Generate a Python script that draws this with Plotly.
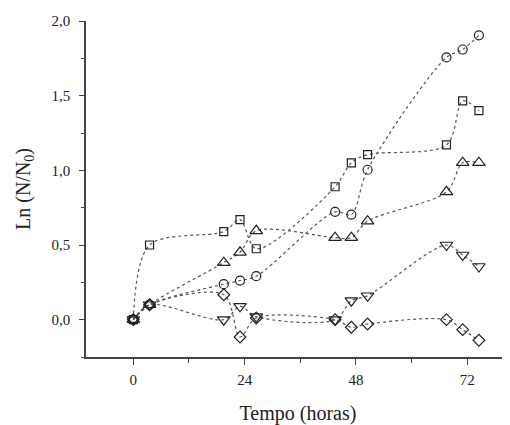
import plotly.graph_objects as go

tempo = [0, 3.5, 19.5, 23, 26.5, 43.5, 47, 50.5, 67.5, 71, 74.5]

quadrado = [0.0, 0.50, 0.59, 0.67, 0.475, 0.89, 1.05, 1.105, 1.17, 1.465, 1.40]
circulo = [0.0, 0.10, 0.238, 0.262, 0.291, 0.722, 0.704, 1.004, 1.756, 1.809, 1.904]
triangulo = [0.0, 0.10, 0.382, 0.451, 0.595, 0.549, 0.549, 0.66, 0.856, 1.051, 1.051]
triangulo_inv = [0.0, 0.10, 0.0, 0.089, 0.02, 0.0, 0.127, 0.16, 0.50, 0.433, 0.356]
losango = [0.0, 0.10, 0.167, -0.116, 0.011, 0.0, -0.051, -0.029, 0.0, -0.067, -0.138]

series = [
    (quadrado, "square-open", 8),
    (circulo, "circle-open", 9),
    (triangulo, "triangle-up-open", 11),
    (triangulo_inv, "triangle-down-open", 11),
    (losango, "diamond-open", 9),
]

fig = go.Figure()
for vals, sym, sz in series:
    fig.add_trace(go.Scatter(
        x=tempo, y=vals, mode="lines+markers",
        line=dict(color="#555555", width=1.2, dash="dot", shape="spline", smoothing=0.9),
        marker=dict(symbol=sym, size=sz, color="#222222", line=dict(width=1.2, color="#222222")),
        showlegend=False,
    ))

font_family = "Liberation Serif, Times New Roman, serif"
fig.update_layout(
    width=502, height=417,
    margin=dict(l=78, r=0, t=13, b=68),
    paper_bgcolor="white", plot_bgcolor="white",
    separators=",.",
    font=dict(family=font_family, size=15, color="#222222"),
    xaxis=dict(
        range=[-10.2, 81.2], tickvals=[0, 24, 48, 72], ticks="outside", ticklen=6,
        tickwidth=1.2, tickcolor="#444444", automargin=False,
        showline=True, linecolor="#444444", linewidth=1.5, showgrid=False, zeroline=False,
        minor=dict(tickvals=[12, 36, 60], ticks="outside", ticklen=4, tickcolor="#444444", tickwidth=1.2),
        title=dict(text="Tempo (horas)", font=dict(size=20, family=font_family), standoff=20),
        tickfont=dict(size=15, family=font_family),
        ticklabelstandoff=2,
    ),
    yaxis=dict(
        range=[-0.25, 2.0], tickvals=[0, 0.5, 1.0, 1.5, 2.0], tickformat=".1f",
        ticks="outside", ticklen=5, tickwidth=1.2, tickcolor="#444444", automargin=False,
        showline=True, linecolor="#444444", linewidth=1.5, showgrid=False, zeroline=False,
        minor=dict(tickvals=[-0.25, 0.25, 0.75, 1.25, 1.75], ticks="outside", ticklen=3, tickcolor="#444444", tickwidth=1.2),
        title=dict(text="Ln (N/N<sub>0</sub>)", font=dict(size=20, family=font_family), standoff=16),
        tickfont=dict(size=15, family=font_family),
        ticklabelstandoff=6,
    ),
)

fig.write_html("out.html")
